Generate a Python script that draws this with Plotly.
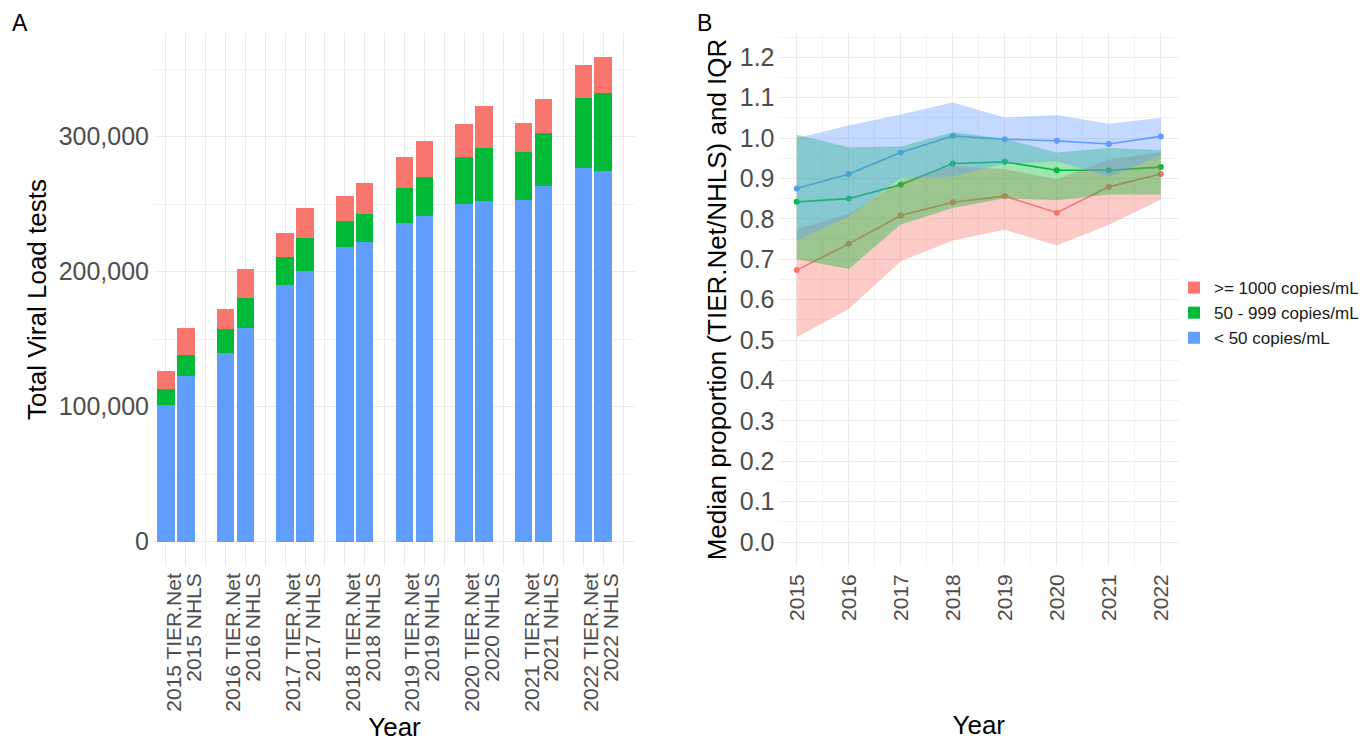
import plotly.graph_objects as go

# ---------------- data ----------------
years = [2015, 2016, 2017, 2018, 2019, 2020, 2021, 2022]
sources = ["TIER.Net", "NHLS"]
groups = [">= 1000 copies/mL", "50 - 999 copies/mL", "< 50 copies/mL"]

# Panel A: total viral load tests by result group
tier_lt50 = [101000, 139800, 190400, 218300, 236000, 250100, 253100, 276800]
tier_50_999 = [12100, 17700, 20700, 19000, 26000, 34900, 35300, 52100]
tier_ge1000 = [13000, 15100, 17300, 19000, 23000, 24600, 21500, 24200]
nhls_lt50 = [122500, 158500, 200200, 222200, 241500, 252600, 263200, 274600]
nhls_50_999 = [15800, 22000, 24500, 20800, 28600, 39300, 39800, 58000]
nhls_ge1000 = [20200, 21500, 22200, 22400, 26900, 31100, 24700, 26100]

# Panel B: median proportion (TIER.Net/NHLS) with IQR
red_med = [0.673, 0.738, 0.808, 0.841, 0.856, 0.815, 0.879, 0.911]
red_lo = [0.507, 0.577, 0.695, 0.746, 0.773, 0.734, 0.785, 0.847]
red_hi = [0.775, 0.812, 0.893, 0.930, 0.923, 0.898, 0.946, 0.965]
green_med = [0.842, 0.850, 0.884, 0.937, 0.941, 0.920, 0.920, 0.928]
green_lo = [0.700, 0.676, 0.786, 0.827, 0.851, 0.846, 0.860, 0.860]
green_hi = [1.008, 0.977, 0.979, 1.014, 0.998, 0.964, 0.975, 0.970]
blue_med = [0.875, 0.911, 0.964, 1.005, 0.997, 0.993, 0.985, 1.004]
blue_lo = [0.746, 0.806, 0.901, 0.905, 0.936, 0.942, 0.905, 0.956]
blue_hi = [1.000, 1.031, 1.058, 1.088, 1.051, 1.057, 1.035, 1.050]

# ---------------- styling ----------------
RED, GREEN, BLUE = "#F8766D", "#00BA38", "#619CFF"
FONT = "Liberation Sans, Arial, Helvetica, sans-serif"
GRID = "#EBEBEB"
MINOR = "#F3F3F3"
W, H = 1371, 739
OFF = 8  # default page body margin offset (px)

# target plot-area box in page pixels
P_LEFT, P_RIGHT, P_TOP, P_BOTTOM = 153.6, 1179.2, 33.3, 566.3
ML = P_LEFT - OFF
MT = P_TOP - OFF
MR = W - (P_RIGHT - OFF)
MB = H - (P_BOTTOM - OFF)
PW = W - ML - MR
PH = H - MT - MB


def fx(p):  # page px -> paper x
    return (p - P_LEFT) / PW


def fy(p):  # page px -> paper y
    return (P_BOTTOM - p) / PH


def rgba(hexc, a):
    h = hexc.lstrip("#")
    return "rgba(%d,%d,%d,%.2f)" % (int(h[0:2], 16), int(h[2:4], 16), int(h[4:6], 16), a)


# categories for panel A (with empty spacer slots between years)
cats, cat_text = [], []
for yr in years:
    for s in sources:
        cats.append(f"{yr} {s}")
        cat_text.append(f"{yr} {s}")
    cats.append(f"spacer {yr}")
    cat_text.append("")
bar_x = [f"{yr} {s}" for yr in years for s in sources]


def interleave(a, b):
    out = []
    for u, v in zip(a, b):
        out += [u, v]
    return out


fig = go.Figure()

for name, col, tv, nv in [
    (groups[2], BLUE, tier_lt50, nhls_lt50),
    (groups[1], GREEN, tier_50_999, nhls_50_999),
    (groups[0], RED, tier_ge1000, nhls_ge1000),
]:
    fig.add_trace(go.Bar(
        x=bar_x, y=interleave(tv, nv), name=name, width=0.88,
        marker=dict(color=col, line=dict(width=0)),
        xaxis="x", yaxis="y", legendgroup=name,
    ))

# Panel B: lines + points first, ribbons drawn on top (as in reference)
series = [
    (RED, red_med, red_lo, red_hi),
    (GREEN, green_med, green_lo, green_hi),
    (BLUE, blue_med, blue_lo, blue_hi),
]
for col, med, lo, hi in series:
    fig.add_trace(go.Scatter(
        x=years, y=med, mode="lines+markers",
        line=dict(color=col, width=1.6), marker=dict(color=col, size=6),
        xaxis="x2", yaxis="y2", showlegend=False,
    ))
for col, med, lo, hi in series:
    fig.add_trace(go.Scatter(
        x=years + years[::-1], y=hi + lo[::-1], mode="lines", fill="toself",
        fillcolor=rgba(col, 0.38), line=dict(width=0),
        xaxis="x2", yaxis="y2", showlegend=False, hoverinfo="skip",
    ))

tickfont = dict(family=FONT, size=21, color="#4D4D4D")
ytickfont = dict(family=FONT, size=25, color="#4D4D4D")
titlefont = dict(family=FONT, size=26, color="#000000")

fig.update_layout(
    width=W, height=H,
    margin=dict(l=ML, r=MR, t=MT, b=MB, autoexpand=False),
    paper_bgcolor="white", plot_bgcolor="white",
    barmode="stack",
    font=dict(family=FONT),
    showlegend=True,
    legend=dict(
        xref="container", yref="container",
        x=(1174 - OFF) / W, y=1 - (313 - OFF) / H, xanchor="left", yanchor="middle",
        traceorder="reversed", font=dict(family=FONT, size=17, color="#1A1A1A"),
        bgcolor="rgba(0,0,0,0)", itemwidth=30, tracegroupgap=0,
    ),
    xaxis=dict(
        domain=[0, fx(634.9)], anchor="y", type="category",
        categoryorder="array", categoryarray=cats,
        tickmode="array", tickvals=cats, ticktext=cat_text,
        range=[-0.6, len(cats) - 0.4], tickangle=-90,
        ticks="", showgrid=True, gridcolor=GRID, gridwidth=1,
        zeroline=False, showline=False, tickfont=tickfont,
        ticklabelshift=8, ticklabelstandoff=2, automargin=False,
        title=dict(text="Year", font=titlefont, standoff=0),
    ),
    yaxis=dict(
        domain=[0, 1], anchor="x", range=[-18000, 376800],
        tickmode="array", tickvals=[0, 100000, 200000, 300000], tickformat=",d",
        ticks="", showgrid=True, gridcolor=GRID, gridwidth=1,
        minor=dict(tickmode="array", tickvals=[50000, 150000, 250000, 350000],
                   showgrid=True, gridcolor=MINOR, gridwidth=0.8),
        zeroline=False, showline=False, tickfont=ytickfont,
        ticklabelstandoff=4, automargin=False,
        title=dict(text="Total Viral Load tests", font=titlefont, standoff=4),
    ),
    xaxis2=dict(
        domain=[fx(778.5), 1], anchor="y2", range=[2014.65, 2022.35],
        tickmode="array", tickvals=years, tickangle=-90,
        ticks="", showgrid=True, gridcolor=GRID, gridwidth=1,
        minor=dict(dtick=0.5, tick0=2014.5, showgrid=True, gridcolor=MINOR, gridwidth=0.8),
        zeroline=False, showline=False, tickfont=tickfont,
        ticklabelstandoff=3, automargin=False,
        title=dict(text="Year", font=titlefont, standoff=95),
    ),
    yaxis2=dict(
        domain=[0, 1], anchor="x2", range=[-0.0594, 1.2599],
        tickmode="array", tickvals=[round(i * 0.1, 1) for i in range(13)], tickformat=".1f",
        ticks="", showgrid=True, gridcolor=GRID, gridwidth=1,
        minor=dict(tickmode="array", tickvals=[round(0.05 + i * 0.1, 2) for i in range(13)],
                   showgrid=True, gridcolor=MINOR, gridwidth=0.8),
        zeroline=False, showline=False, tickfont=ytickfont,
        ticklabelstandoff=3, automargin=False,
        title=dict(text="Median proportion (TIER.Net/NHLS) and IQR", font=titlefont, standoff=5),
    ),
    annotations=[
        dict(text="A", x=fx(10), y=fy(23), xref="paper", yref="paper",
             xanchor="left", yanchor="middle", showarrow=False,
             font=dict(family=FONT, size=23, color="black")),
        dict(text="B", x=fx(695), y=fy(23), xref="paper", yref="paper",
             xanchor="left", yanchor="middle", showarrow=False,
             font=dict(family=FONT, size=23, color="black")),
    ],
)

fig.write_html("out.html")
